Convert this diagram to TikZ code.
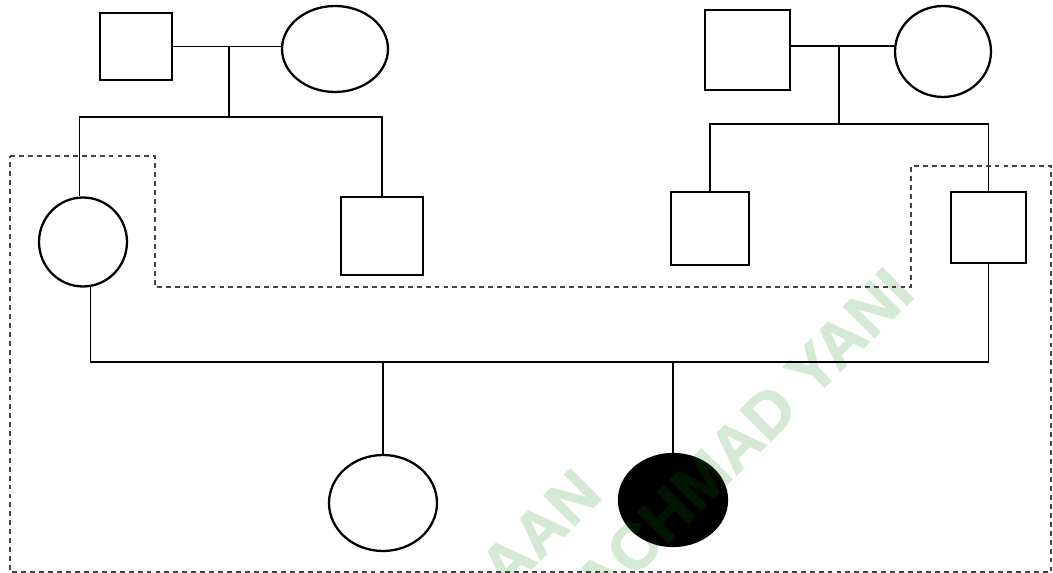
\documentclass[tikz,border=0pt]{standalone}
\usepackage{fontspec}
\newfontfamily\wmfont[BoldFeatures={FakeBold=1.5}]{Liberation Sans}
\usetikzlibrary{shapes.geometric}
\definecolor{dashgrey}{RGB}{68,68,68}
\definecolor{wmgreen}{RGB}{0,133,0}
\tikzset{
  male/.style={draw, rectangle, line width=1.3pt, inner sep=0pt},
  female/.style={draw, ellipse, line width=1.3pt, inner sep=0pt},
  link/.style={line width=0.6pt},
  boundary/.style={draw=dashgrey, line width=0.6pt, dash pattern=on 2.8pt off 2.3pt},
  wm/.style={text=wmgreen, rotate=45, inner sep=0pt, font=\wmfont\bfseries\fontsize{36.2}{42}\selectfont}
}
\begin{document}
\begin{tikzpicture}[x=0.02cm, y=-0.02cm]
\useasboundingbox (0,0) rectangle (1053,573);
\fill[white] (0,0) rectangle (1053,573);
% generation I
\node[male, minimum width=1.44cm, minimum height=1.34cm] (f1) at (136,46.5) {};
\node[female, minimum width=2.12cm, minimum height=1.72cm] (m1) at (335,49) {};
\node[male, minimum width=1.70cm, minimum height=1.60cm] (f2) at (747.5,50) {};
\node[female, minimum width=1.92cm, minimum height=1.82cm] (m2) at (943,51.5) {};
% generation II
\node[female, minimum width=1.76cm, minimum height=1.78cm] (ch1) at (83,242) {};
\node[male, minimum width=1.64cm, minimum height=1.56cm] (ch2) at (382,236) {};
\node[male, minimum width=1.56cm, minimum height=1.46cm] (ch3) at (710,228.5) {};
\node[male, minimum width=1.50cm, minimum height=1.42cm] (ch4) at (988.5,227.5) {};
% generation III
\node[female, minimum width=2.16cm, minimum height=1.92cm] (gc1) at (383,503) {};
\node[female, fill=black, minimum width=2.16cm, minimum height=1.84cm] (gc2) at (673,500) {};
% watermark
\begin{scope}[transparency group, opacity=0.165]
\clip (0,0) rectangle (1053,573);
\node[wm] (wm1) at (743,438) {ACHMAD YANI};
\node[wm] (wm2) at (540,530) {AAN};
\end{scope}
% helper coordinates
\coordinate (c1) at (229,46.5);
\coordinate (s1) at (229,117);
\coordinate (c2) at (839,46);
\coordinate (s2) at (839,124);
\coordinate (s3) at (530,362);
% connectors
\draw[link] (f1.east) -- (f1.east -| m1.west);
\draw[link] (c1) -- (s1);
\draw[link] (ch1.94) |- (s1) -| (ch2.north);
\draw[link] (f2.east |- c2) -- (m2.west |- c2);
\draw[link] (c2) -- (s2);
\draw[link] (ch3.north) |- (s2) -| (ch4.north);
\draw[link] (ch1.-80) |- (s3) -| (ch4.south);
\draw[link] (gc1.north) -- (gc1.north |- s3);
\draw[link] (gc2.north) -- (gc2.north |- s3);
% dashed boundary
\draw[boundary] (10,156) -- (155,156) -- (155,287) -- (911,287) -- (911,166) -- (1051,166) -- (1051,572) -- (10,572) -- cycle;
\end{tikzpicture}
\end{document}
